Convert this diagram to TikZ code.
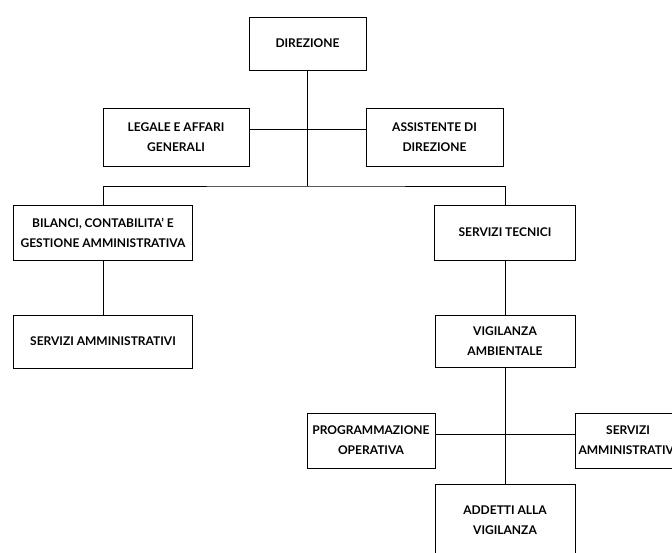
\documentclass[tikz,border=0pt]{standalone}
\usepackage{fontspec}
\setmainfont{Lato}[BoldFont={Lato Bold}]
\begin{document}
\begin{tikzpicture}[x=1pt,y=-1pt,
  box/.style={draw, line width=1pt, inner sep=0pt, align=center,
    font=\fontsize{12}{20}\selectfont\bfseries},
  conn/.style={line width=1pt}]
\useasboundingbox (0,0) rectangle (672,552);
\clip (0,0) rectangle (672,552);
\node[box, minimum width=117pt, minimum height=53pt] (dir) at (307.5,43.5) {DIREZIONE};
\node[box, minimum width=146pt, minimum height=58pt] (leg) at (176,137) {LEGALE E AFFARI\\GENERALI};
\node[box, minimum width=137pt, minimum height=58pt] (ass) at (434.5,137) {ASSISTENTE DI\\DIREZIONE};
\node[box, minimum width=179pt, minimum height=55pt] (bil) at (103,232.5) {BILANCI, CONTABILITA' E\\GESTIONE AMMINISTRATIVA};
\node[box, minimum width=141pt, minimum height=55pt] (tec) at (505,232.5) {SERVIZI TECNICI};
\node[box, minimum width=179pt, minimum height=53pt] (sam) at (103,341.5) {SERVIZI AMMINISTRATIVI};
\node[box, minimum width=140pt, minimum height=52pt] (vig) at (505,341) {VIGILANZA\\AMBIENTALE};
\node[box, minimum width=128pt, minimum height=55pt] (pro) at (371,440.5) {PROGRAMMAZIONE\\OPERATIVA};
\node[box, minimum width=106pt, minimum height=55pt] (sa2) at (628,440.5) {SERVIZI\\AMMINISTRATIVI};
\node[box, minimum width=140pt, minimum height=72pt] (add) at (505,520) {ADDETTI ALLA\\VIGILANZA};
\coordinate (j1) at (307.5,186);
\coordinate (h1) at (307.5,129);
\coordinate (h2) at (505,434);
\draw[conn] (dir.south) -- (j1);
\draw[conn] (h1 -| leg.east) -- (h1 -| ass.west);
\draw[conn] (bil.north) |- (j1) -| (tec.north);
\draw[conn] (bil.south) -- (sam.north);
\draw[conn] (tec.south) -- (vig.north);
\draw[conn] (vig.south) -- (add.north);
\draw[conn] (h2 -| pro.east) -- (h2 -| sa2.west);
\end{tikzpicture}
\end{document}
